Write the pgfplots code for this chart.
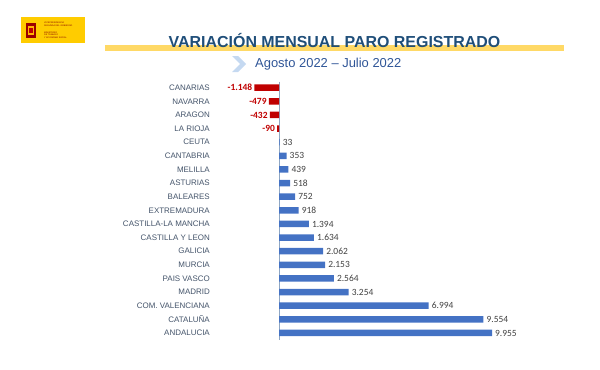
\documentclass[border=0pt]{standalone}
\usepackage{pgfplots}
\pgfplotsset{compat=1.18}
\usepackage{fontspec}
\setmainfont{Liberation Sans}
\newfontfamily\carlito{Carlito}
\definecolor{barblue}{HTML}{4472C4}
\definecolor{barred}{HTML}{C00000}
\definecolor{titleblue}{HTML}{1F4E79}
\definecolor{subblue}{HTML}{2F5597}
\definecolor{catgray}{HTML}{44546A}
\definecolor{numgray}{HTML}{404040}
\definecolor{gold}{HTML}{FFD966}
\definecolor{chev}{HTML}{C5D9F1}
\definecolor{logoy}{HTML}{FFCC00}
\definecolor{axisline}{HTML}{8FA7C4}
\begin{document}
\begin{tikzpicture}[x=1bp,y=1bp]
\path[use as bounding box] (0,0) rectangle (600,369);
% logo
\fill[logoy] (21,326) rectangle (85,352);
\fill[barred!80!black] (26,331) rectangle (36,346);
\fill[logoy!70!orange] (28,334) rectangle (34,343);
\fill[barred] (29,336) rectangle (33,341);
\node[anchor=west,font=\fontsize{2.2}{2.6}\selectfont,text=barred!70!black,align=left,inner sep=0] at (44,344.5) {VICEPRESIDENCIA\\SEGUNDA DEL GOBIERNO};
\node[anchor=west,font=\fontsize{2.2}{2.6}\selectfont,text=barred!70!black,align=left,inner sep=0] at (44,334) {MINISTERIO\\DE TRABAJO\\Y ECONOMÍA SOCIAL};
% title band and title
\fill[gold] (105,318) rectangle (564,324);
\node[anchor=base,font=\fontsize{16}{16}\selectfont\bfseries,text=titleblue,inner sep=0] at (334.5,321.7) {VARIACIÓN MENSUAL PARO REGISTRADO};
% chevron and subtitle
\fill[chev] (232,313) -- (238,313) -- (246,305) -- (238,297) -- (232,297) -- (240,305) -- cycle;
\node[anchor=base west,font=\fontsize{13}{13}\selectfont,text=subblue,inner sep=0] at (255,301.4) {Agosto 2022 – Julio 2022};
\begin{axis}[
  at={(246.9bp,29.2bp)}, anchor=south west,
  scale only axis, width=246.06bp, height=258.9bp,
  xmin=-1500, xmax=10000, ymin=-0.5, ymax=18.5,
  y dir=reverse,
  axis line style={draw=none},
  xtick=\empty,
  ytick={0,...,18},
  yticklabels={CANARIAS,NAVARRA,ARAGON,LA RIOJA,CEUTA,CANTABRIA,MELILLA,ASTURIAS,BALEARES,EXTREMADURA,CASTILLA-LA MANCHA,CASTILLA Y LEON,GALICIA,MURCIA,PAIS VASCO,MADRID,COM. VALENCIANA,CATALUÑA,ANDALUCIA},
  major tick length=0pt,
  yticklabel style={anchor=east,inner sep=0pt,xshift=-36.9bp,font=\fontsize{8}{8}\selectfont,text=catgray},
  xbar, bar width=6.5bp, bar shift=0pt,
  clip=false,
  /pgf/number format/.cd, fixed, precision=0, 1000 sep={.}, assume math mode=true,
]
\draw[axisline,line width=0.7pt] (axis cs:0,-0.45) -- (axis cs:0,18.55);
\addplot[fill=barred,draw=none,
  nodes near coords,
  every node near coord/.append style={anchor=east,font=\carlito\bfseries\fontsize{9.5}{9.5}\selectfont,text=barred,inner sep=2pt}]
  coordinates {(-1148,0) (-479,1) (-432,2) (-90,3)};
\addplot[fill=barblue,draw=none,
  nodes near coords,
  every node near coord/.append style={anchor=west,font=\carlito\fontsize{9.5}{9.5}\selectfont,text=numgray,inner sep=3pt}]
  coordinates {(33,4) (353,5) (439,6) (518,7) (752,8) (918,9) (1394,10) (1634,11) (2062,12) (2153,13) (2564,14) (3254,15) (6994,16) (9554,17) (9955,18)};
\end{axis}
\end{tikzpicture}
\end{document}
